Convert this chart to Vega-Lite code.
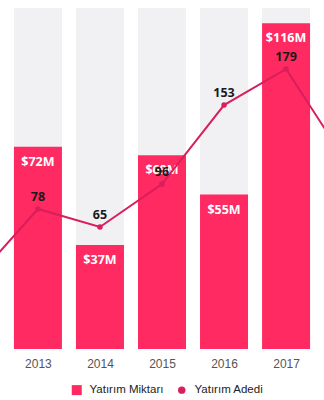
{
  "$schema": "https://vega.github.io/schema/vega-lite/v6.json",
  "width": 324,
  "height": 341,
  "autosize": "none",
  "padding": {"left": 0, "top": 8, "right": 0, "bottom": 51},
  "background": "white",
  "config": {"view": {"stroke": null}},
  "data": {
    "values": [
      {"year": 2012, "count": 28},
      {"year": 2013, "amount": 72, "amountLabel": "$72M", "count": 78},
      {"year": 2014, "amount": 37, "amountLabel": "$37M", "count": 65},
      {"year": 2015, "amount": 69, "amountLabel": "$69M", "count": 96},
      {"year": 2016, "amount": 55, "amountLabel": "$55M", "count": 153},
      {"year": 2017, "amount": 116, "amountLabel": "$116M", "count": 179},
      {"year": 2018, "count": 110}
    ]
  },
  "encoding": {
    "x": {
      "field": "year",
      "type": "quantitative",
      "scale": {"domain": [2012.469, 2017.531], "nice": false, "zero": false},
      "axis": {
        "values": [2013, 2014, 2015, 2016, 2017],
        "format": "d",
        "title": null,
        "grid": false,
        "domain": false,
        "ticks": false,
        "labelColor": "#555555",
        "labelFont": "Liberation Sans",
        "labelFontSize": 12,
        "labelPadding": 9,
        "labelFlush": false
      }
    }
  },
  "layer": [
    {
      "transform": [{"filter": "isValid(datum.amount)"}],
      "layer": [
        {
          "mark": {"type": "bar", "width": 48, "color": "#f1f1f4", "clip": true},
          "encoding": {
            "y": {"datum": 121.4, "type": "quantitative", "scale": {"domain": [0, 121.4], "nice": false}, "axis": null}
          }
        },
        {
          "mark": {"type": "bar", "width": 48, "clip": true},
          "encoding": {
            "y": {"field": "amount", "type": "quantitative", "scale": {"domain": [0, 121.4], "nice": false}, "axis": null},
            "color": {
              "datum": "Yatırım Miktarı",
              "scale": {"domain": ["Yatırım Miktarı", "Yatırım Adedi"], "range": ["#fe2a61", "#d81e5b"]},
              "legend": {
                "orient": "none",
                "legendX": 71,
                "legendY": 376,
                "direction": "horizontal",
                "title": null,
                "labelFont": "Liberation Sans",
                "labelFontSize": 11.5,
                "labelColor": "#222222",
                "labelOffset": 7,
                "columnPadding": 12,
                "symbolSize": 100,
                "symbolStrokeWidth": 0,
                "encode": {
                  "symbols": {
                    "update": {
                      "shape": {"signal": "datum.value === 'Yatırım Miktarı' ? 'square' : 'circle'"},
                      "size": {"signal": "datum.value === 'Yatırım Miktarı' ? 100 : 55"},
                      "opacity": {"value": 1}
                    }
                  }
                }
              }
            }
          }
        },
        {
          "mark": {"type": "text", "dy": 15, "font": "Open Sans", "fontWeight": "bold", "fontSize": 12.5, "color": "white", "clip": true},
          "encoding": {
            "y": {"field": "amount", "type": "quantitative", "scale": {"domain": [0, 121.4], "nice": false}, "axis": null},
            "text": {"field": "amountLabel"}
          }
        }
      ]
    },
    {
      "layer": [
        {
          "mark": {"type": "line", "color": "#d81e5b", "strokeWidth": 2, "clip": true},
          "encoding": {
            "y": {"field": "count", "type": "quantitative", "scale": {"domain": [-23, 223], "nice": false, "zero": false}, "axis": null}
          }
        },
        {
          "transform": [{"filter": "isValid(datum.amount)"}],
          "mark": {"type": "point", "filled": true, "opacity": 1, "size": 30, "clip": true},
          "encoding": {
            "y": {"field": "count", "type": "quantitative", "scale": {"domain": [-23, 223], "nice": false, "zero": false}, "axis": null},
            "color": {"datum": "Yatırım Adedi"}
          }
        },
        {
          "transform": [{"filter": "isValid(datum.amount)"}],
          "mark": {"type": "text", "dy": -12, "font": "Open Sans", "fontWeight": "bold", "fontSize": 12.5, "color": "#1a1a1a", "clip": true},
          "encoding": {
            "y": {"field": "count", "type": "quantitative", "scale": {"domain": [-23, 223], "nice": false, "zero": false}, "axis": null},
            "text": {"field": "count", "type": "quantitative"}
          }
        }
      ]
    }
  ],
  "resolve": {"scale": {"y": "independent"}}
}
